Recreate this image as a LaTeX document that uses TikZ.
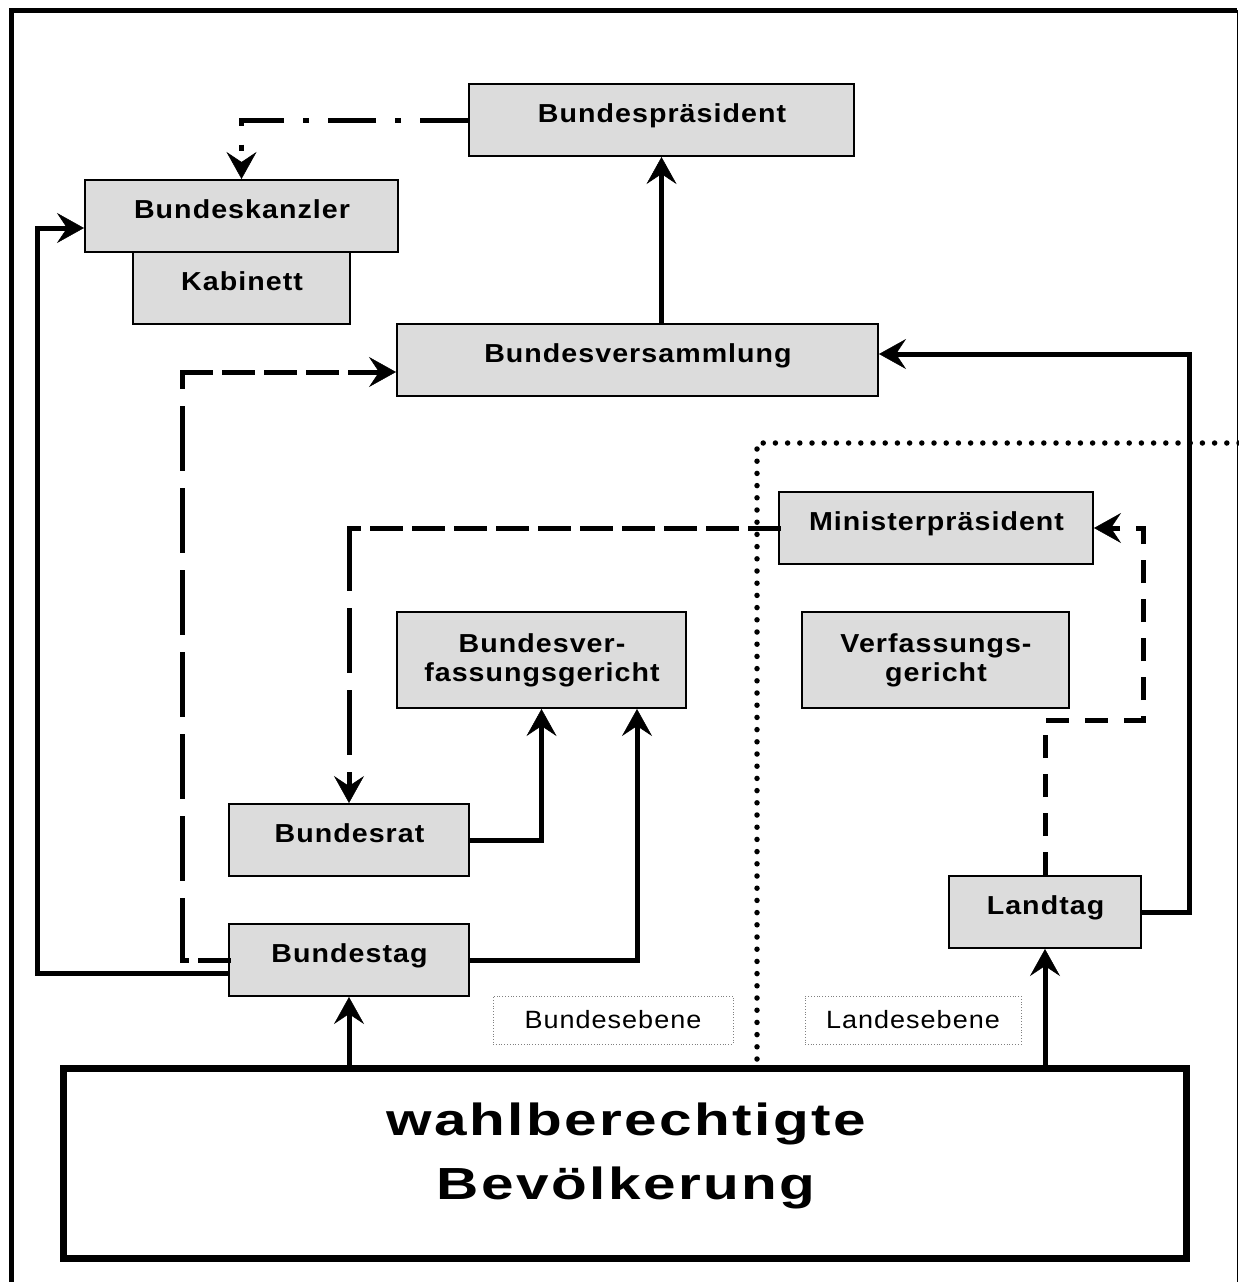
\documentclass[tikz,border=0pt]{standalone}
\usepackage{fontspec}
\setmainfont{Liberation Sans}
\newfontfamily\boxfont[FakeStretch=1.1,LetterSpace=4]{Liberation Sans}
\newfontfamily\lblfont[FakeStretch=1.08,LetterSpace=4]{Liberation Sans}
\newfontfamily\bigfont[FakeStretch=1.3,LetterSpace=5.5]{Liberation Sans}
\usetikzlibrary{arrows.meta,calc}
\definecolor{boxgray}{HTML}{DCDCDC}
\tikzset{
  gbox/.style={draw=black, fill=boxgray, line width=2pt, inner sep=0pt, rectangle},
  btext/.style={font={\boxfont\bfseries\fontsize{26}{30}\selectfont}, anchor=base, inner sep=0pt, xshift=0.5pt},
  lblbox/.style={draw=gray, dotted, line width=0.8pt, inner sep=0pt, rectangle,
    font={\lblfont\fontsize{25}{29}\selectfont}},
  bigtext/.style={font={\bigfont\bfseries\fontsize{45}{52}\selectfont}, anchor=base, inner sep=0pt, xshift=1.2pt},
  arr/.style={-{Stealth[length=27pt,width=30pt,inset=10pt,line width=0.5pt]}},
  conn/.style={line width=5pt},
  hdash/.style={conn, line cap=rect, dash pattern=on 28pt off 14pt},
  vdash/.style={conn, line cap=rect, dash pattern=on 60pt off 22pt},
  sdash/.style={conn, dash pattern=on 23pt off 16pt},
  dashdot/.style={conn, dash pattern=on 48pt off 19pt on 6pt off 19pt},
  dotline/.style={line width=5.5pt, line cap=round, dash pattern=on 0pt off 12.2pt},
}
\begin{document}
\begin{tikzpicture}[x=1pt,y=-1pt]
\useasboundingbox (0,0) rectangle (1239,1282);
\fill[white] (0,0) rectangle (1239,1282);

% boxes
\node[gbox, minimum width=385, minimum height=72] (bp) at (661.5,120) {};
\node[gbox, minimum width=217, minimum height=72] (kab) at (241.5,288) {};
\node[gbox, minimum width=313, minimum height=72] (bk) at (241.5,216) {};
\node[gbox, minimum width=481, minimum height=72] (bv) at (637.5,360) {};
\node[gbox, minimum width=314, minimum height=72] (mp) at (936,528) {};
\node[gbox, minimum width=289, minimum height=96] (bvg) at (541.5,660) {};
\node[gbox, minimum width=267, minimum height=96] (vg) at (935.5,660) {};
\node[gbox, minimum width=240, minimum height=72] (br) at (349,840) {};
\node[gbox, minimum width=240, minimum height=72] (bt) at (349,960) {};
\node[gbox, minimum width=192, minimum height=72] (lt) at (1045,912) {};
\node[draw=black, fill=white, line width=7pt, inner sep=0pt, minimum width=1123, minimum height=190] (pop) at (625,1163.5) {};

% box texts
\node[btext] (bpT) at (661.5,122) {Bundespräsident};
\node[btext] (bkT) at (241.5,218) {Bundeskanzler};
\node[btext] (kabT) at (241.5,290) {Kabinett};
\node[btext] (bvT) at (637.5,362) {Bundesversammlung};
\node[btext] (mpT) at (936,530) {Ministerpräsident};
\node[btext] (bvgT1) at (541.5,652) {Bundesver-};
\node[btext] (bvgT2) at (541.5,681) {fassungsgericht};
\node[btext] (vgT1) at (935.5,652) {Verfassungs-};
\node[btext] (vgT2) at (935.5,681) {gericht};
\node[btext] (brT) at (349,842) {Bundesrat};
\node[btext] (btT) at (349,962) {Bundestag};
\node[btext] (ltT) at (1045,914) {Landtag};
\node[bigtext] (popT1) at (625,1135) {wahlberechtigte};
\node[bigtext] (popT2) at (625,1199) {Bevölkerung};

% level labels
\node[lblbox, minimum width=240, minimum height=48] (be) at (613,1020) {\raisebox{-4pt}{Bundesebene}};
\node[lblbox, minimum width=216, minimum height=48] (le) at (913,1020) {\raisebox{-4pt}{Landesebene}};

% frame
\coordinate (fr1) at (11,1282);
\coordinate (fr2) at (11,10);
\coordinate (fr3) at (1237,10);
\coordinate (fr4) at (1237,1282);
\draw[line width=5pt] (fr1) -- (fr2) -- (fr3);
\draw[line width=1pt] (fr3) -- (fr4);

% dotted border between levels
\coordinate (r0) at (757,443);
\coordinate (r1) at (1239,443);
\draw[dotline] (r1) -- (r0) -- (r0 |- pop.north);

% Bundespraesident -> Bundeskanzler
\coordinate (a1) at (241.5,120);
\draw[dashdot, arr] (bp.west) -- (a1) -- (bk.north);

% Bundesversammlung -> Bundespraesident
\draw[conn, arr] (bp.south |- bv.north) -- (bp.south);

% Bundestag -> Bundeskanzler
\coordinate (c1) at (37,973);
\coordinate (c2) at (37,228);
\draw[conn, arr] (bt.west |- c1) -- (c1) -- (c2) -- (bk.west |- c2);

% Bundestag -> Bundesversammlung (dashed)
\coordinate (d1) at (182,960);
\coordinate (d2) at (182,372);
\draw[hdash] (bt.west) -- (d1);
\draw[vdash] (d1) -- (d2);
\draw[hdash, arr] (d2) -- (bv.west |- d2);

% Ministerpraesident -> Bundesrat (dashed)
\coordinate (e1) at (349,528);
\draw[hdash] (mp.west) -- (e1);
\draw[vdash, arr] (e1) -- (br.north);

% Landtag -> Ministerpraesident (dashed)
\coordinate (f1) at (1045,720);
\coordinate (f2) at (1143,720);
\coordinate (f3) at (1143,528);
\draw[sdash, arr] (lt.north) -- (f1) -- (f2) -- (f3) -- (mp.east);

% Bundesrat -> Bundesverfassungsgericht
\coordinate (g1) at (541.5,840);
\draw[conn, arr] (br.east) -- (g1) -- (g1 |- bvg.south);

% Bundestag -> Bundesverfassungsgericht
\coordinate (h1) at (637,960);
\draw[conn, arr] (bt.east) -- (h1) -- (h1 |- bvg.south);

% Bevoelkerung -> Bundestag / Landtag
\draw[conn, arr] (bt.south |- pop.north) -- (bt.south);
\draw[conn, arr] (lt.south |- pop.north) -- (lt.south);

% Landtag -> Bundesversammlung
\coordinate (k1) at (1189,912);
\coordinate (k2) at (1189,354);
\draw[conn, arr] (lt.east) -- (k1) -- (k2) -- (bv.east |- k2);
\end{tikzpicture}
\end{document}
